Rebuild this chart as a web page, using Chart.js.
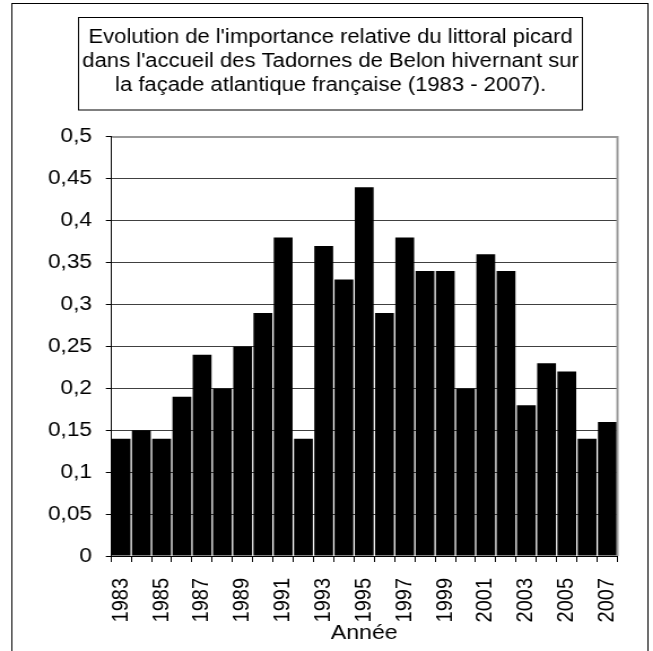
<!DOCTYPE html>
<html>
<head>
<meta charset="utf-8">
<script src="https://cdn.jsdelivr.net/npm/chart.js@4/dist/chart.umd.min.js"></script>
<style>
    html, body { margin: 0; padding: 0; background: #fff; overflow: hidden; }
    /* the chart is drawn narrow and widened, so the text comes out broad like the printed chart */
    #wrap { width: 578px; height: 651px; transform: scaleX(1.1298); transform-origin: 0 0; }
</style>
</head>
<body>
<div id="wrap"><canvas id="myChart" width="578" height="651"></canvas></div>
<script>
const years = [
    '1983', '1984', '1985', '1986', '1987', '1988', '1989', '1990', '1991',
    '1992', '1993', '1994', '1995', '1996', '1997', '1998', '1999', '2000',
    '2001', '2002', '2003', '2004', '2005', '2006', '2007'
];

const ratios = [
    0.14, 0.15, 0.14, 0.19, 0.24, 0.20, 0.25, 0.29, 0.38,
    0.14, 0.37, 0.33, 0.44, 0.29, 0.38, 0.34, 0.34, 0.20,
    0.36, 0.34, 0.18, 0.23, 0.22, 0.14, 0.16
];

const yTickLabels = ['0', '0,05', '0,1', '0,15', '0,2', '0,25', '0,3', '0,35', '0,4', '0,45', '0,5'];

const titleLines = [
    "Evolution de l'importance relative du littoral picard",
    "dans l'accueil des Tadornes de Belon hivernant sur",
    "la façade atlantique française (1983 - 2007)."
];

const fontFamily = "'Liberation Sans', Arial, sans-serif";

// outer frame, title box and the grey top/right edges of the plot area
const frames = {
    id: 'frames',
    afterDraw(chart) {
        const ctx = chart.ctx;
        const a = chart.chartArea;
        ctx.save();
        ctx.strokeStyle = '#000';
        ctx.lineWidth = 1;
        ctx.strokeRect(10.5, 3.5, 563, 700);
        ctx.strokeRect(69.5, 17.5, 446, 92.5);
        ctx.strokeStyle = '#999';
        ctx.lineWidth = 2;
        ctx.beginPath();
        ctx.moveTo(a.left + 1, a.top);
        ctx.lineTo(a.right, a.top);
        ctx.lineTo(a.right, a.bottom);
        ctx.stroke();
        ctx.restore();
    }
};

const data = {
    labels: years,
    datasets: [
        {
            data: ratios,
            backgroundColor: '#000',
            borderWidth: 0,
            barPercentage: 0.93,
            categoryPercentage: 1
        }
    ]
};

const config = {
    type: 'bar',
    data: data,
    options: {
        responsive: false,
        animation: false,
        layout: {
            padding: { left: 29, right: 21.8, top: 0, bottom: 0 }
        },
        scales: {
            x: {
                grid: { offset: true, drawOnChartArea: false, color: '#000', tickLength: 6 },
                border: { color: '#000' },
                ticks: {
                    autoSkip: false,
                    minRotation: 90,
                    maxRotation: 90,
                    padding: 16,
                    color: '#000',
                    font: { family: fontFamily, size: 20 },
                    callback: (v, i) => (i % 2 === 0 ? years[i] : '')
                },
                title: {
                    display: true,
                    text: 'Année',
                    color: '#000',
                    font: { family: fontFamily, size: 20.5 },
                    padding: { top: 0, bottom: 5.8 }
                },
                afterFit(scale) { scale.height = 95; }
            },
            y: {
                min: 0,
                max: 0.5,
                grid: { color: '#404040', tickColor: '#000', tickLength: 4.5 },
                border: { color: '#000' },
                ticks: {
                    stepSize: 0.05,
                    padding: 12.3,
                    color: '#000',
                    font: { family: fontFamily, size: 20 },
                    callback: (v, i) => yTickLabels[i]
                },
                afterFit(scale) { scale.width = 69.2; }
            }
        },
        plugins: {
            legend: { display: false },
            tooltip: { enabled: false },
            title: {
                display: true,
                text: titleLines,
                color: '#000',
                font: { family: fontFamily, size: 19.5, weight: 'normal', lineHeight: 1.23 },
                padding: { top: 25.5, bottom: 39.5 }
            }
        }
    },
    plugins: [frames]
};

const myChart = new Chart(
    document.getElementById('myChart'),
    config
);
</script>
</body>
</html>
